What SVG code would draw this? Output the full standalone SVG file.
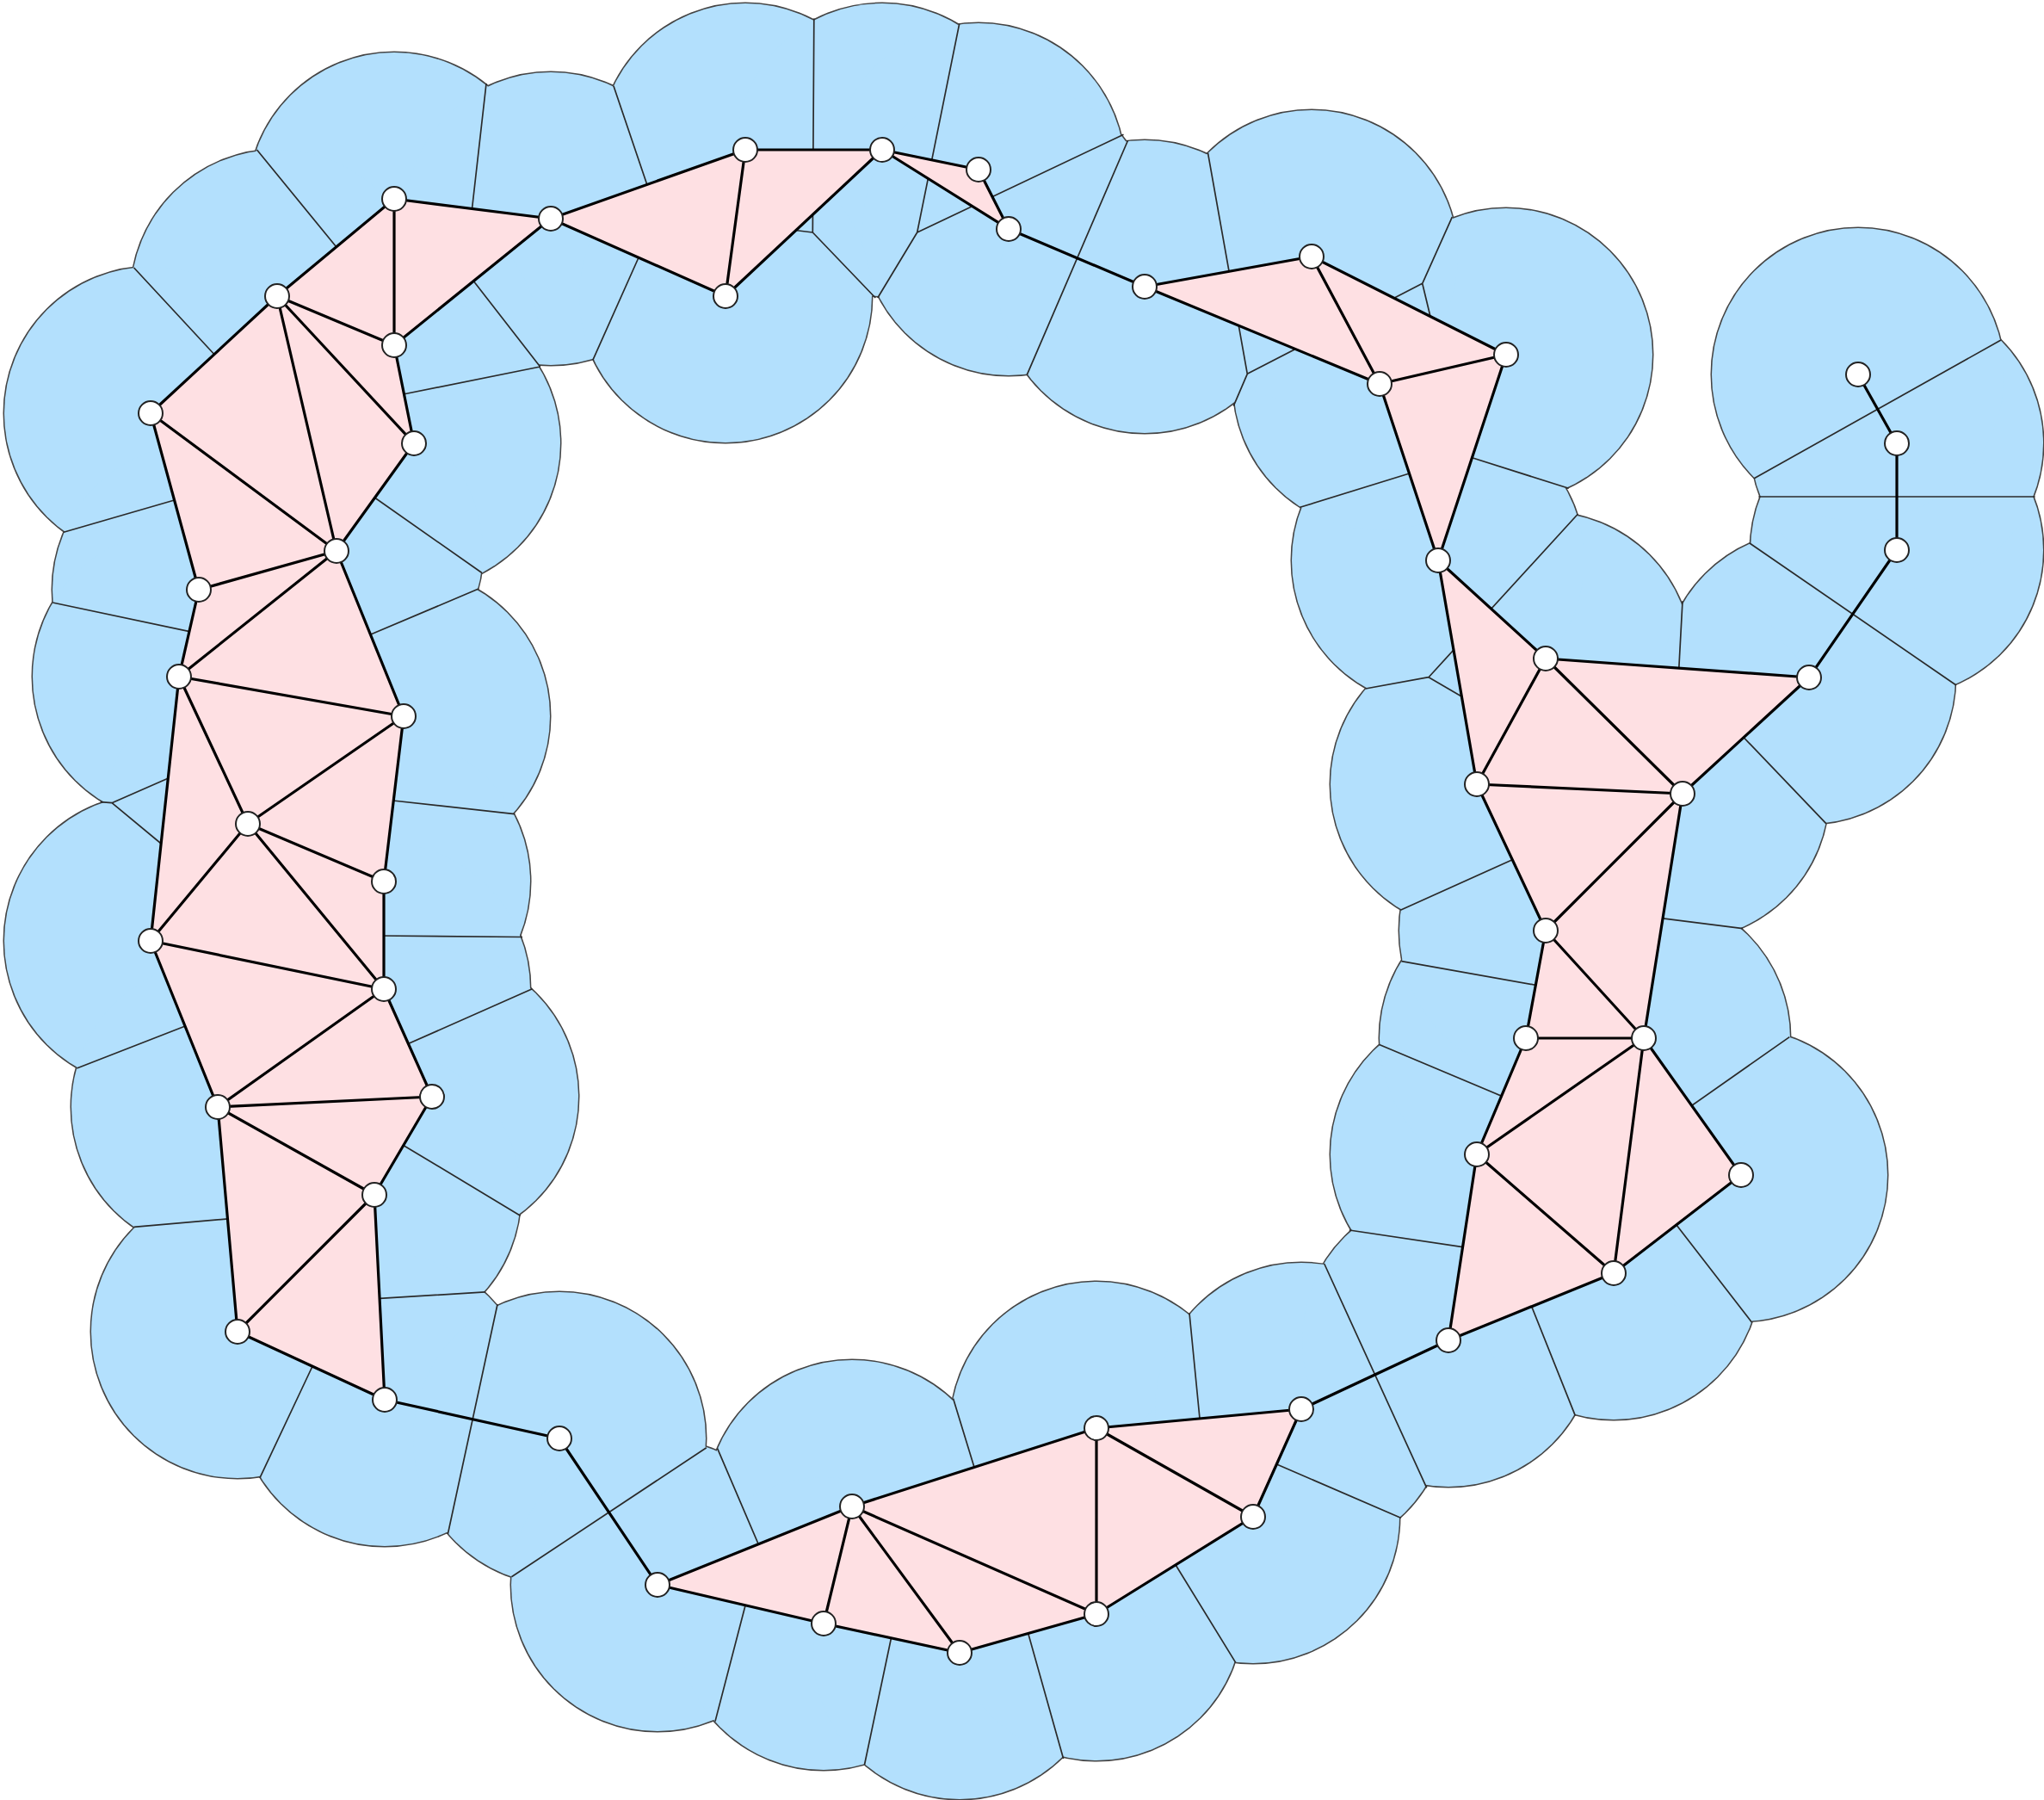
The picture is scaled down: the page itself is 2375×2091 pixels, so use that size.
<svg xmlns="http://www.w3.org/2000/svg" width="2375" height="2091" viewBox="0 0 2375 2091">
<style>
.nd{fill:#fff;stroke:#222;stroke-width:2}
</style>
<defs>
<g id="disks">
<circle cx="458" cy="231" r="170"/><circle cx="640" cy="254" r="170"/><circle cx="866" cy="174" r="170"/><circle cx="1025" cy="174" r="170"/>
<circle cx="1137" cy="197" r="170"/><circle cx="1172" cy="266" r="170"/><circle cx="843" cy="344" r="170"/><circle cx="322" cy="344" r="170"/>
<circle cx="458" cy="401" r="170"/><circle cx="175" cy="480" r="170"/><circle cx="481" cy="515" r="170"/><circle cx="391" cy="640" r="170"/>
<circle cx="231" cy="685" r="170"/><circle cx="208" cy="786" r="170"/><circle cx="469" cy="832" r="170"/><circle cx="288" cy="957" r="170"/>
<circle cx="446" cy="1024" r="170"/><circle cx="175" cy="1093" r="170"/><circle cx="446" cy="1149" r="170"/><circle cx="253" cy="1286" r="170"/>
<circle cx="502" cy="1274" r="170"/><circle cx="435" cy="1388" r="170"/><circle cx="276" cy="1547" r="170"/><circle cx="447" cy="1626" r="170"/>
<circle cx="650" cy="1671" r="170"/><circle cx="764" cy="1841" r="170"/><circle cx="990" cy="1750" r="170"/><circle cx="957" cy="1886" r="170"/>
<circle cx="1115" cy="1920" r="170"/><circle cx="1274" cy="1875" r="170"/><circle cx="1274" cy="1659" r="170"/><circle cx="1456" cy="1762" r="170"/>
<circle cx="1512" cy="1637" r="170"/><circle cx="1683" cy="1557" r="170"/><circle cx="1875" cy="1479" r="170"/><circle cx="2023" cy="1365" r="170"/>
<circle cx="1716" cy="1341" r="170"/><circle cx="1910" cy="1206" r="170"/><circle cx="1773" cy="1206" r="170"/><circle cx="1796" cy="1081" r="170"/>
<circle cx="1955" cy="922" r="170"/><circle cx="1716" cy="911" r="170"/><circle cx="1796" cy="765" r="170"/><circle cx="2102" cy="787" r="170"/>
<circle cx="1671" cy="651" r="170"/><circle cx="2204" cy="639" r="170"/><circle cx="2204" cy="515" r="170"/><circle cx="2159" cy="435" r="170"/>
<circle cx="1603" cy="446" r="170"/><circle cx="1750" cy="412" r="170"/><circle cx="1524" cy="298" r="170"/><circle cx="1330" cy="333" r="170"/>
</g>
</defs>
<rect width="2375" height="2091" fill="#fff"/>
<g id="union">
<use href="#disks" fill="#b3e0fd" stroke="#444" stroke-width="3"/>
<use href="#disks" fill="#b3e0fd" stroke="none"/>
</g>
<g id="voronoi" fill="none" stroke="#2a2a2a" stroke-width="1.7" stroke-linejoin="round">
<path d="M298.5 174L395 292 M565 97L548 247 M713 100L753 218 M155.6 311L253 416 M627.6 426L546 321 M688.8 418.3L743 297 M627.6 426L466 458.5 M560 665.5L431 575 M74 618.3L206 580 M61.2 700L225 734.6 M556 684L426 739 M116.7 931.7L130 932.7L199 902.5 M130 932.7L192 984 M598 945.6L452 929.5 M607 1088.5L440 1087 M89.3 1241L219 1190.5 M618.4 1148.75L468 1215.3 M604.6 1412.2L462 1326.4 M155.6 1425.3L268 1415.6 M563.8 1500.8L437 1508.7 M578 1515.2L520.4 1781.9 M302 1716.6L365 1583 M594.4 1831.8L820.8 1681.7"/>
<path d="M833.6 1682.6L883 1798 M1107.6 1624.8L1134 1711 M1382 1525.5L1394.5 1653 M1538.7 1468L1657.7 1728.3 M1627.6 1763.3L1480 1699.5 M1435.6 1931.1L1363 1813 M1235.6 2043L1194 1895 M1004.5 2050L1036.3 1899 M831 1999.6L866.4 1863.5"/>
<path d="M1567.8 1429L1703 1449.2 M1830.3 1644.4L1779 1516 M2035.6 1536.2L1946 1420.5 M1955 698.3L1950.6 780 M2033 631L2273 796 M2122 956.8L2024.5 855 M1627.3 1057.2L1760 997.5 M1628.4 1116.6L1788 1145 M1602.7 1213.5L1748 1274.6 M2079.3 1204.6L1964 1285.5 M2025 1078.7L1930 1066.7"/>
<path d="M1833.3 597.3L1660 786.7 M1586.7 800L1660 786.7L1705 813 M1822.7 567.3L1709 531.2 M1510.6 589.3L1640 549.3 M1687.3 252.2L1652.7 329.3L1449.3 434.3 M1652.7 329.3L1663 372 M1403.5 177.7L1449.3 434.3L1433.3 471.7 M1310.6 163L1193.3 435.3 M1305.5 156.25L1065.7 270L1114.7 27.7 M1065.7 270L1019.8 346 M945.8 21.4L944.3 270L1017.2 346 M944.3 270L920 267 M2043.4 577L2364.6 577 M2038.2 555.8L2325 395"/>
</g>
<g id="faces" fill="#fee0e3" stroke="none">
<polygon points="322,344 458,231 458,401"/><polygon points="458,231 640,254 458,401"/><polygon points="322,344 458,401 481,515"/>
<polygon points="322,344 481,515 391,640"/><polygon points="322,344 391,640 175,480"/><polygon points="175,480 391,640 231,685"/>
<polygon points="391,640 231,685 208,786"/><polygon points="391,640 208,786 469,832"/><polygon points="208,786 469,832 288,957"/>
<polygon points="208,786 288,957 175,1093"/><polygon points="469,832 288,957 446,1024"/><polygon points="288,957 446,1024 446,1149"/>
<polygon points="288,957 175,1093 446,1149"/><polygon points="175,1093 446,1149 253,1286"/><polygon points="446,1149 253,1286 502,1274"/>
<polygon points="253,1286 502,1274 435,1388"/><polygon points="253,1286 435,1388 276,1547"/><polygon points="435,1388 276,1547 447,1626"/>
<polygon points="640,254 866,174 843,344"/><polygon points="866,174 1025,174 843,344"/><polygon points="1025,174 1137,197 1172,266"/>
<polygon points="1330,333 1524,298 1603,446"/><polygon points="1524,298 1750,412 1603,446"/><polygon points="1603,446 1750,412 1671,651"/>
<polygon points="1671,651 1796,765 1716,911"/><polygon points="1796,765 2102,787 1955,922"/><polygon points="1796,765 1955,922 1716,911"/>
<polygon points="1716,911 1955,922 1796,1081"/><polygon points="1955,922 1796,1081 1910,1206"/><polygon points="1796,1081 1773,1206 1910,1206"/>
<polygon points="1773,1206 1910,1206 1716,1341"/><polygon points="1910,1206 1716,1341 1875,1479"/><polygon points="1910,1206 2023,1365 1875,1479"/>
<polygon points="1716,1341 1875,1479 1683,1557"/>
<polygon points="764,1841 990,1750 957,1886"/><polygon points="990,1750 957,1886 1115,1920"/><polygon points="990,1750 1115,1920 1274,1875"/>
<polygon points="990,1750 1274,1875 1274,1659"/><polygon points="1274,1659 1274,1875 1456,1762"/><polygon points="1274,1659 1456,1762 1512,1637"/>
</g>
<g id="connectors" fill="none" stroke="#000" stroke-width="3.2" stroke-linecap="round">
<path d="M322 344L458 231 M458 231L458 401 M322 344L458 401 M458 231L640 254 M640 254L458 401 M458 401L481 515 M322 344L481 515 M481 515L391 640 M322 344L391 640 M391 640L175 480 M322 344L175 480 M391 640L231 685 M175 480L231 685 M231 685L208 786 M391 640L208 786 M208 786L469 832 M391 640L469 832 M469 832L288 957 M208 786L288 957 M288 957L175 1093 M208 786L175 1093 M288 957L446 1024 M469 832L446 1024 M446 1024L446 1149 M288 957L446 1149 M175 1093L446 1149 M446 1149L253 1286 M175 1093L253 1286 M253 1286L502 1274 M446 1149L502 1274 M502 1274L435 1388 M253 1286L435 1388 M435 1388L276 1547 M253 1286L276 1547 M276 1547L447 1626 M435 1388L447 1626 M447 1626L650 1671 M650 1671L764 1841"/>
<path d="M640 254L866 174 M866 174L843 344 M640 254L843 344 M866 174L1025 174 M1025 174L843 344 M1025 174L1137 197 M1137 197L1172 266 M1025 174L1172 266 M1172 266L1330 333 M1330 333L1524 298 M1524 298L1603 446 M1330 333L1603 446 M1524 298L1750 412 M1750 412L1603 446 M1750 412L1671 651 M1603 446L1671 651"/>
<path d="M1671 651L1796 765 M1796 765L1716 911 M1671 651L1716 911 M1796 765L2102 787 M2102 787L1955 922 M1796 765L1955 922 M1955 922L1716 911 M1955 922L1796 1081 M1716 911L1796 1081 M1796 1081L1910 1206 M1955 922L1910 1206 M1796 1081L1773 1206 M1773 1206L1910 1206 M1773 1206L1716 1341 M1910 1206L1716 1341 M1716 1341L1875 1479 M1910 1206L1875 1479 M1910 1206L2023 1365 M2023 1365L1875 1479 M1875 1479L1683 1557 M1716 1341L1683 1557 M1683 1557L1512 1637 M2102 787L2204 639 M2204 639L2204 515 M2204 515L2159 435"/>
<path d="M764 1841L990 1750 M990 1750L957 1886 M764 1841L957 1886 M957 1886L1115 1920 M990 1750L1115 1920 M1115 1920L1274 1875 M990 1750L1274 1875 M1274 1875L1274 1659 M990 1750L1274 1659 M1274 1875L1456 1762 M1274 1659L1456 1762 M1456 1762L1512 1637 M1274 1659L1512 1637"/>
</g>
<g id="nodes">
<g id="n1"><circle class="nd" cx="458" cy="231" r="14"/></g>
<g id="n2"><circle class="nd" cx="640" cy="254" r="14"/></g>
<g id="n3"><circle class="nd" cx="866" cy="174" r="14"/></g>
<g id="n4"><circle class="nd" cx="1025" cy="174" r="14"/></g>
<g id="n5"><circle class="nd" cx="1137" cy="197" r="14"/></g>
<g id="n6"><circle class="nd" cx="1172" cy="266" r="14"/></g>
<g id="n7"><circle class="nd" cx="843" cy="344" r="14"/></g>
<g id="n8"><circle class="nd" cx="322" cy="344" r="14"/></g>
<g id="n9"><circle class="nd" cx="458" cy="401" r="14"/></g>
<g id="n10"><circle class="nd" cx="175" cy="480" r="14"/></g>
<g id="n11"><circle class="nd" cx="481" cy="515" r="14"/></g>
<g id="n12"><circle class="nd" cx="391" cy="640" r="14"/></g>
<g id="n13"><circle class="nd" cx="231" cy="685" r="14"/></g>
<g id="n14"><circle class="nd" cx="208" cy="786" r="14"/></g>
<g id="n15"><circle class="nd" cx="469" cy="832" r="14"/></g>
<g id="n16"><circle class="nd" cx="288" cy="957" r="14"/></g>
<g id="n17"><circle class="nd" cx="446" cy="1024" r="14"/></g>
<g id="n18"><circle class="nd" cx="175" cy="1093" r="14"/></g>
<g id="n19"><circle class="nd" cx="446" cy="1149" r="14"/></g>
<g id="n20"><circle class="nd" cx="253" cy="1286" r="14"/></g>
<g id="n21"><circle class="nd" cx="502" cy="1274" r="14"/></g>
<g id="n22"><circle class="nd" cx="435" cy="1388" r="14"/></g>
<g id="n23"><circle class="nd" cx="276" cy="1547" r="14"/></g>
<g id="n24"><circle class="nd" cx="447" cy="1626" r="14"/></g>
<g id="n25"><circle class="nd" cx="650" cy="1671" r="14"/></g>
<g id="n26"><circle class="nd" cx="764" cy="1841" r="14"/></g>
<g id="n27"><circle class="nd" cx="990" cy="1750" r="14"/></g>
<g id="n28"><circle class="nd" cx="957" cy="1886" r="14"/></g>
<g id="n29"><circle class="nd" cx="1115" cy="1920" r="14"/></g>
<g id="n30"><circle class="nd" cx="1274" cy="1875" r="14"/></g>
<g id="n31"><circle class="nd" cx="1274" cy="1659" r="14"/></g>
<g id="n32"><circle class="nd" cx="1456" cy="1762" r="14"/></g>
<g id="n33"><circle class="nd" cx="1512" cy="1637" r="14"/></g>
<g id="n34"><circle class="nd" cx="1683" cy="1557" r="14"/></g>
<g id="n35"><circle class="nd" cx="1875" cy="1479" r="14"/></g>
<g id="n36"><circle class="nd" cx="2023" cy="1365" r="14"/></g>
<g id="n37"><circle class="nd" cx="1716" cy="1341" r="14"/></g>
<g id="n38"><circle class="nd" cx="1910" cy="1206" r="14"/></g>
<g id="n39"><circle class="nd" cx="1773" cy="1206" r="14"/></g>
<g id="n40"><circle class="nd" cx="1796" cy="1081" r="14"/></g>
<g id="n41"><circle class="nd" cx="1955" cy="922" r="14"/></g>
<g id="n42"><circle class="nd" cx="1716" cy="911" r="14"/></g>
<g id="n43"><circle class="nd" cx="1796" cy="765" r="14"/></g>
<g id="n44"><circle class="nd" cx="2102" cy="787" r="14"/></g>
<g id="n45"><circle class="nd" cx="1671" cy="651" r="14"/></g>
<g id="n46"><circle class="nd" cx="2204" cy="639" r="14"/></g>
<g id="n47"><circle class="nd" cx="2204" cy="515" r="14"/></g>
<g id="n48"><circle class="nd" cx="2159" cy="435" r="14"/></g>
<g id="n49"><circle class="nd" cx="1603" cy="446" r="14"/></g>
<g id="n50"><circle class="nd" cx="1750" cy="412" r="14"/></g>
<g id="n51"><circle class="nd" cx="1524" cy="298" r="14"/></g>
<g id="n52"><circle class="nd" cx="1330" cy="333" r="14"/></g>
</g>
</svg>
